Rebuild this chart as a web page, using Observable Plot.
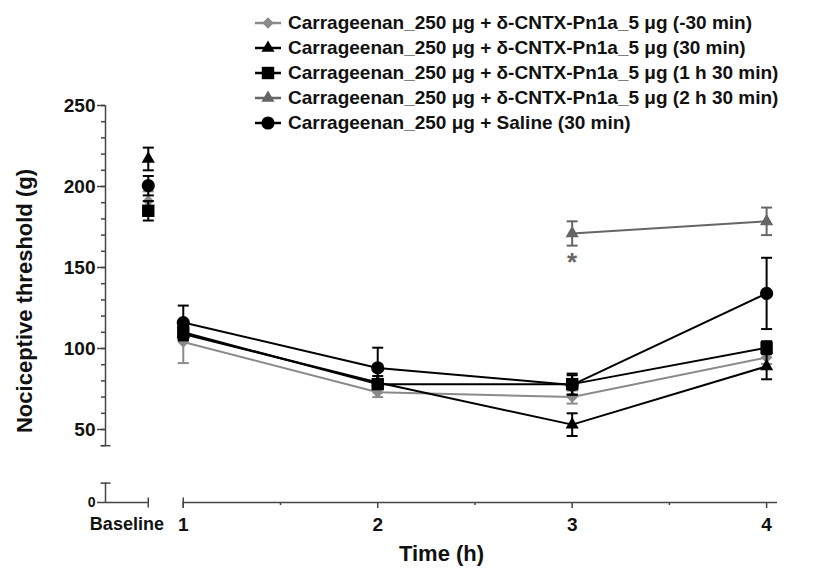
<!DOCTYPE html>
<html><head><meta charset="utf-8">
<script src="https://cdn.jsdelivr.net/npm/d3@7"></script>
<script src="https://cdn.jsdelivr.net/npm/@observablehq/plot@0.6"></script>
<style>
body{margin:0;background:#fff;font-family:"Liberation Sans",Arial,sans-serif;}
#wrap{position:relative;width:835px;height:574px;}
#legend{position:absolute;left:252px;top:11px;}
.row{height:24.8px;display:flex;align-items:center;font-weight:bold;font-size:19px;color:#111;white-space:nowrap;}
.row svg{margin-right:4px;flex:none;}
</style></head><body>
<div id="wrap"><div id="legend"></div></div>
<script>
// ---- data ----
const times = ["Baseline", 1, 2, 3, 4];
const seriesNames = [
  "Carrageenan_250 μg + δ-CNTX-Pn1a_5 μg (-30 min)",
  "Carrageenan_250 μg + δ-CNTX-Pn1a_5 μg (30 min)",
  "Carrageenan_250 μg + δ-CNTX-Pn1a_5 μg (1 h 30 min)",
  "Carrageenan_250 μg + δ-CNTX-Pn1a_5 μg (2 h 30 min)",
  "Carrageenan_250 μg + Saline (30 min)"
];
const meanMinus30 = [191, 104, 73, 70, 94.5];
const semMinus30  = [6, 13, 3, 4, 4];
const mean30      = [217, 109, 79, 53, 89];
const sem30       = [7, 4, 4, 7, 8];
const mean1h30    = [185, 110, 78, 78, 100.5];
const sem1h30     = [6, 4, 3, 6.5, 4];
const mean2h30    = [null, null, null, 171, 178.5];
const sem2h30     = [null, null, null, 7.5, 8.5];
const meanSaline  = [200.5, 116, 88, 77.5, 134];
const semSaline   = [6, 10.5, 12.5, 6, 22];
const significance = [{t: 3, y: 153, label: "*"}];

const yMajorTicks = [50, 100, 150, 200, 250];
const yMinorTicks = d3.range(40, 251, 10);
const xMajorTicks = [1, 2, 3, 4];
const xMinorTicks = [1.5, 2.5, 3.5];
const xTitle = "Time (h)";
const yTitle = "Nociceptive threshold (g)";

// ---- styles ----
const colors  = ["#8a8a8a", "#000", "#000", "#666", "#000"];
const symbols = ["diamond2", "triangle", "square", "triangle", "circle"];
const radii   = [5.2, 4.9, 7, 4.9, 6.6];
const drawOrder = [0, 4, 2, 1, 3];
const axisColor = "#444";

// x layout: baseline segment sits left of the time axis
const xStart = 0.6, baseX = 0.82, xEnd = 4.056;
const xOf = t => t === "Baseline" ? baseX : t;

const allMeans = [meanMinus30, mean30, mean1h30, mean2h30, meanSaline];
const allSems  = [semMinus30, sem30, sem1h30, sem2h30, semSaline];
const rowsFor = i => times.map((t, k) => ({
  series: seriesNames[i], t, x: xOf(t),
  mean: allMeans[i][k],
  lo: allMeans[i][k] == null ? null : allMeans[i][k] - allSems[i][k],
  hi: allMeans[i][k] == null ? null : allMeans[i][k] + allSems[i][k]
})).filter(d => d.mean != null);

const hcap = w => ({draw(ctx){ ctx.moveTo(-w, 0); ctx.lineTo(w, 0); }});
const vcap = h => ({draw(ctx){ ctx.moveTo(0, -h); ctx.lineTo(0, h); }});

const seriesMarks = i => {
  const rows = rowsFor(i);
  const c = colors[i];
  return [
    Plot.line(rows.filter(d => d.t !== "Baseline"), {x: "x", y: "mean", stroke: c, strokeWidth: 2}),
    Plot.ruleX(rows, {x: "x", y1: "lo", y2: "hi", stroke: c, strokeWidth: 2}),
    Plot.dot(rows, {x: "x", y: "hi", symbol: hcap(5.5), r: 1, stroke: c, fill: "none", strokeWidth: 2}),
    Plot.dot(rows, {x: "x", y: "lo", symbol: hcap(5.5), r: 1, stroke: c, fill: "none", strokeWidth: 2}),
    Plot.dot(rows, {x: "x", y: "mean", symbol: symbols[i], r: radii[i], fill: c, stroke: "none"})
  ];
};

const plot = Plot.plot({
  width: 835, height: 574,
  marginLeft: 105, marginRight: 58, marginTop: 105, marginBottom: 72,
  x: {domain: [xStart, xEnd], axis: null},
  y: {type: "linear", domain: [0, 12, 40, 250], range: [502, 482.6, 445.2, 105], axis: null},
  style: {fontFamily: "'Liberation Sans', Arial, sans-serif", fontWeight: "bold", fontSize: "19px", color: "#111", background: "transparent"},
  marks: [
    // y axis (broken)
    Plot.ruleX([xStart], {y1: 40, y2: 250, stroke: axisColor, strokeWidth: 1.5}),
    Plot.ruleX([xStart], {y1: 0, y2: 12, stroke: axisColor, strokeWidth: 1.5}),
    Plot.dot([40, 12], {x: () => xStart, y: d => d, symbol: hcap(5), r: 1, stroke: axisColor, strokeWidth: 1.5}),
    Plot.axisY({ticks: yMinorTicks, tickSize: 4, tickFormat: () => "", stroke: axisColor, strokeWidth: 1.5, label: null}),
    Plot.axisY({ticks: yMajorTicks, tickSize: 8, tickPadding: 2, fontSize: 19, tickFormat: d => String(d), stroke: axisColor, strokeWidth: 1.5, label: null}),
    Plot.axisY({ticks: [0], tickSize: 8, tickPadding: 2, fontSize: 14, tickFormat: d => String(d), stroke: axisColor, strokeWidth: 1.5, label: null}),
    // x axis (baseline segment + time axis)
    Plot.ruleY([0], {x1: xStart, x2: baseX, stroke: axisColor, strokeWidth: 1.5}),
    Plot.ruleY([0], {x1: 1, x2: xEnd, stroke: axisColor, strokeWidth: 1.5}),
    Plot.dot([baseX, 1], {x: d => d, y: () => 0, symbol: vcap(5), r: 1, stroke: axisColor, strokeWidth: 1.5}),
    Plot.axisX({ticks: xMinorTicks, tickSize: 3, tickFormat: () => "", stroke: axisColor, strokeWidth: 1.5, label: null}),
    Plot.axisX({ticks: xMajorTicks, tickSize: 6, tickPadding: 9, fontSize: 19, tickFormat: d => String(d), stroke: axisColor, strokeWidth: 1.5, label: null}),
    Plot.axisX({ticks: [(xStart + baseX) / 2], tickSize: 0, tickPadding: 15, fontSize: 18, tickFormat: () => "Baseline", label: null}),
    // titles
    Plot.text([xTitle], {frameAnchor: "bottom", dy: 58, fontSize: 22, fill: "#111"}),
    Plot.text([yTitle], {frameAnchor: "left", textAnchor: "middle", rotate: -90, dx: -81, dy: -3, fontSize: 22, fill: "#111"}),
    // series
    ...drawOrder.flatMap(i => seriesMarks(i)),
    // significance
    Plot.text(significance, {x: "t", y: "y", text: "label", fill: "#666", fontSize: 26})
  ]
});
document.getElementById("wrap").prepend(plot);

// ---- legend ----
const legend = d3.select("#legend");
seriesNames.forEach((name, i) => {
  const row = legend.append("div").attr("class", "row");
  const svg = row.append("svg").attr("width", 32).attr("height", 20);
  svg.append("line").attr("x1", 3).attr("x2", 29).attr("y1", 10).attr("y2", 10)
    .attr("stroke", colors[i]).attr("stroke-width", 2.5);
  svg.append("path").attr("transform", "translate(16,10)")
    .attr("d", d3.symbol(d3["symbol" + symbols[i][0].toUpperCase() + symbols[i].slice(1)], Math.PI * radii[i] * radii[i])())
    .attr("fill", colors[i]);
  row.append("span").text(name);
});
</script>
</body></html>
